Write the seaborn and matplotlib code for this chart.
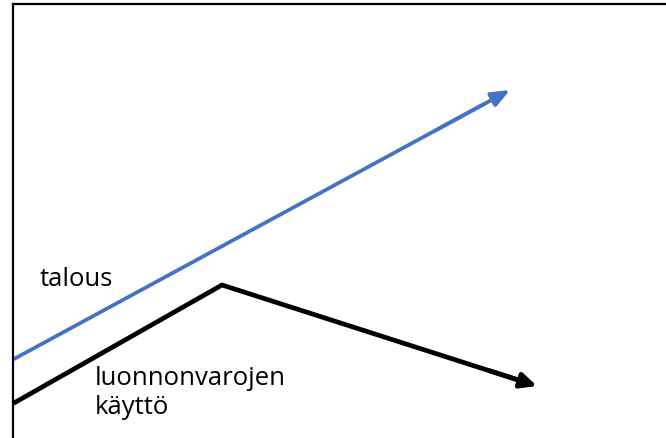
import matplotlib
matplotlib.use("Agg")
import matplotlib.pyplot as plt
import seaborn as sns
import pandas as pd

sns.set_theme(style="white")
plt.rcParams['font.family'] = ['Open Sans', 'DejaVu Sans']

# data (arbitrary units, x = time)
talous_x = [1, 497]
talous_y = [79, 348]
luonto_x = [1, 209, 524]
luonto_y = [35, 153, 52]
label_talous = "talous"
label_luonto = "luonnonvarojen\nkäyttö"

fig = plt.figure(figsize=(6.66, 4.39), dpi=100)
ax = fig.add_axes([13/666, 0, 653/666, 434/439])
ax.set_xlim(0, 653)
ax.set_ylim(0, 434)

def draw(xs, ys, color, lw, head):
    x0, y0 = xs[-2], ys[-2]
    x1, y1 = xs[-1], ys[-1]
    f = 0.95
    xs2 = list(xs[:-1]) + [x0 + (x1 - x0) * f]
    ys2 = list(ys[:-1]) + [y0 + (y1 - y0) * f]
    sns.lineplot(x=xs2, y=ys2, ax=ax, color=color, lw=lw, sort=False,
                 estimator=None, legend=False)
    ax.annotate("", xy=(x1, y1), xytext=(x0 + (x1 - x0) * 0.85, y0 + (y1 - y0) * 0.85),
                arrowprops=dict(arrowstyle=f"-|>,head_length={head[0]},head_width={head[1]}",
                                color=color, lw=lw, shrinkA=0, shrinkB=0,
                                mutation_scale=10))

draw(talous_x, talous_y, "#4472C4", 2.7, (1.1, 0.45))
draw(luonto_x, luonto_y, "black", 3.4, (0.95, 0.45))

ax.text(27, 160, label_talous, fontsize=18.5, color="black", va="center", ha="left")
ax.text(82, 46, label_luonto, fontsize=18.5, color="black", va="center", ha="left",
        linespacing=1.17)

for s in ["right", "bottom"]:
    ax.spines[s].set_visible(False)
for s in ["top", "left"]:
    ax.spines[s].set_visible(True)
    ax.spines[s].set_color("black")
    ax.spines[s].set_linewidth(1.6)
ax.set_xticks([])
ax.set_yticks([])
ax.set_xlabel("")
ax.set_ylabel("")

fig.savefig("out.png", dpi=100)
